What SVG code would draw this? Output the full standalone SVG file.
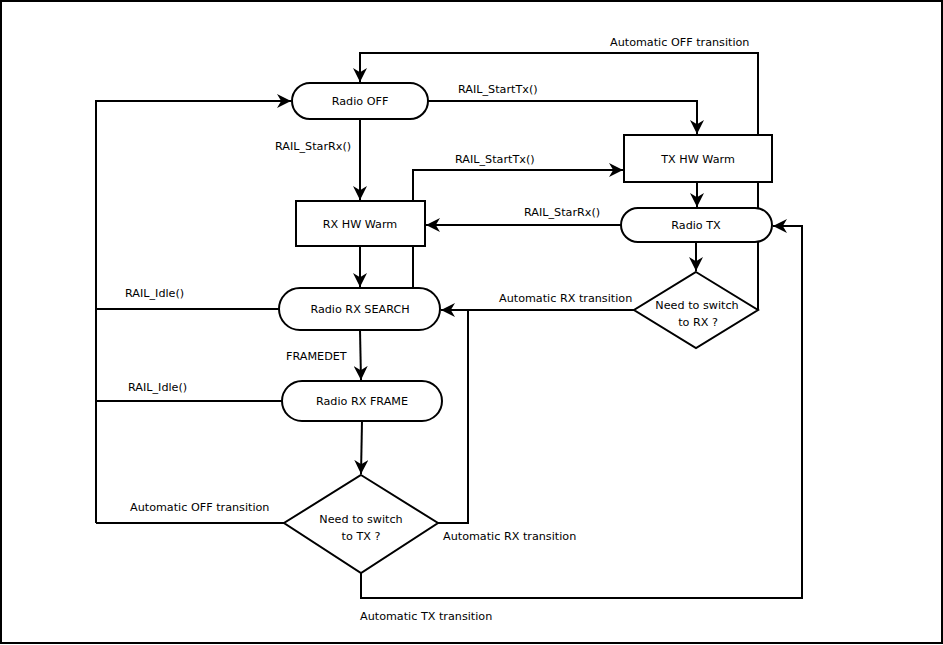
<svg xmlns="http://www.w3.org/2000/svg" width="943" height="645" viewBox="0 0 943 645">
<style>
  .n{fill:#fff;stroke:#000;stroke-width:2}
  .t{font-family:"DejaVu Sans",sans-serif;font-size:11.2px;fill:#000;text-anchor:middle}
  .l{font-family:"DejaVu Sans",sans-serif;font-size:11.2px;fill:#000}
  .c{fill:none;stroke:#000;stroke-width:2}
</style>
<defs>
  <marker id="a" viewBox="0 0 10 10" refX="10" refY="5" markerWidth="14" markerHeight="14" markerUnits="userSpaceOnUse" orient="auto">
    <path d="M0,0 L10,5 L0,10 L3,5 Z" fill="#000"/>
  </marker>
</defs>
<rect x="1" y="1" width="941" height="642" fill="#fff" stroke="#000" stroke-width="2"/>
<g id="connectors">
  <path class="c" d="M758,310 V53 H360 V82" marker-end="url(#a)"/>
  <path class="c" d="M428,101 H697 V134" marker-end="url(#a)"/>
  <path class="c" d="M360,119 V200" marker-end="url(#a)"/>
  <path class="c" d="M413,288 V170 H623" marker-end="url(#a)"/>
  <path class="c" d="M697,182 V207" marker-end="url(#a)"/>
  <path class="c" d="M621,225 H426" marker-end="url(#a)"/>
  <path class="c" d="M360,246 V287" marker-end="url(#a)"/>
  <path class="c" d="M696,242 V271" marker-end="url(#a)"/>
  <path class="c" d="M634,310 H441" marker-end="url(#a)"/>
  <path class="c" d="M279,309 H96"/>
  <path class="c" d="M96,523 V101 H291" marker-end="url(#a)"/>
  <path class="c" d="M282,401 H96"/>
  <path class="c" d="M284,523 H96"/>
  <path class="c" d="M360,330 L361,380" marker-end="url(#a)"/>
  <path class="c" d="M362,421 L361,474" marker-end="url(#a)"/>
  <path class="c" d="M438,523 H468 V310"/>
  <path class="c" d="M361,573 V598 H802 V226 H773" marker-end="url(#a)"/>
  <text class="l" x="610" y="46">Automatic OFF transition</text>
  <text class="l" x="458" y="93">RAIL_StartTx()</text>
  <text class="l" x="275" y="150">RAIL_StarRx()</text>
  <text class="l" x="455" y="163">RAIL_StartTx()</text>
  <text class="l" x="524" y="216">RAIL_StarRx()</text>
  <text class="l" x="499" y="302">Automatic RX transition</text>
  <text class="l" x="125" y="297">RAIL_Idle()</text>
  <text class="l" x="286" y="360">FRAMEDET</text>
  <text class="l" x="128" y="391">RAIL_Idle()</text>
  <text class="l" x="130" y="511">Automatic OFF transition</text>
  <text class="l" x="443" y="540">Automatic RX transition</text>
  <text class="l" x="360" y="620">Automatic TX transition</text>
</g>
<g id="radio-off">
  <rect class="n" x="292" y="83" width="136" height="36" rx="18"/>
  <text class="t" x="360" y="105">Radio OFF</text>
</g>
<g id="tx-hw-warm">
  <rect class="n" x="624" y="135" width="148" height="47"/>
  <text class="t" x="698" y="163">TX HW Warm</text>
</g>
<g id="rx-hw-warm">
  <rect class="n" x="296" y="201" width="129" height="45"/>
  <text class="t" x="360" y="228">RX HW Warm</text>
</g>
<g id="radio-tx">
  <rect class="n" x="621" y="208" width="151" height="34" rx="17"/>
  <text class="t" x="696" y="229">Radio TX</text>
</g>
<g id="radio-rx-search">
  <rect class="n" x="279" y="288" width="161" height="42" rx="21"/>
  <text class="t" x="360" y="313">Radio RX SEARCH</text>
</g>
<g id="switch-rx">
  <polygon class="n" points="696,272 758,310 696,348 634,310"/>
  <text class="t" x="697" y="309">Need to switch</text>
  <text class="t" x="698" y="326">to RX ?</text>
</g>
<g id="radio-rx-frame">
  <rect class="n" x="282" y="381" width="160" height="40" rx="20"/>
  <text class="t" x="362" y="405">Radio RX FRAME</text>
</g>
<g id="switch-tx">
  <polygon class="n" points="361,475 438,523 361,573 284,523"/>
  <text class="t" x="361" y="523">Need to switch</text>
  <text class="t" x="361" y="540">to TX ?</text>
</g>
</svg>
